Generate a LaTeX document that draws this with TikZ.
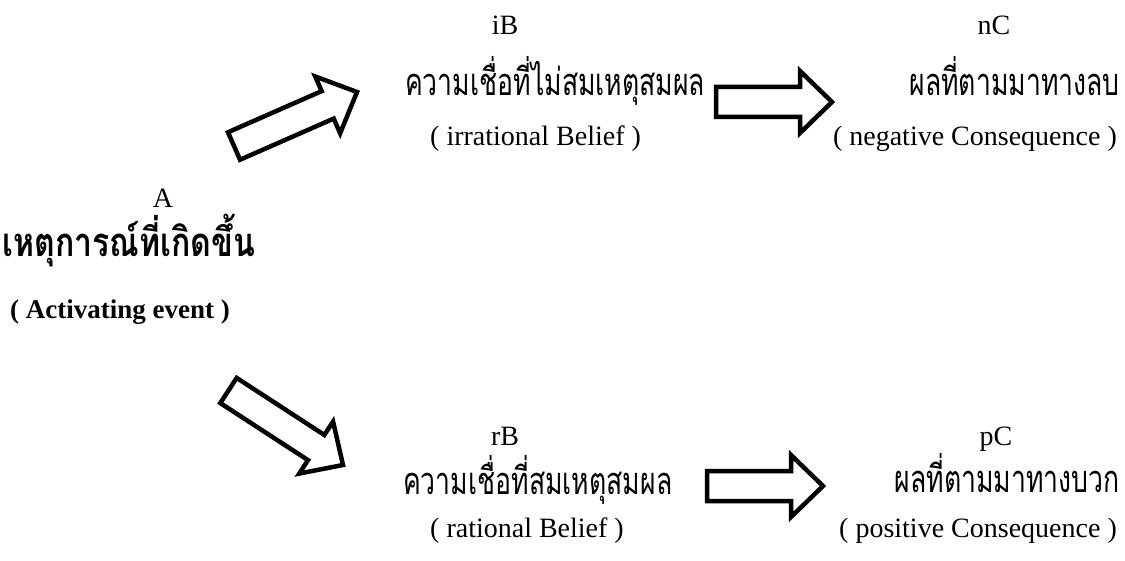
\documentclass[tikz,border=0pt]{standalone}
\usepackage{fontspec}
\setmainfont{Liberation Serif}
\newfontfamily\thaifont[Script=Thai,FakeStretch=0.70]{Loma}
\newfontfamily\thaiwide[Script=Thai,FakeStretch=0.80]{Loma}
\usetikzlibrary{calc}

\tikzset{
  latin/.style={inner sep=0pt, font=\fontsize{28}{34}\selectfont},
  thai/.style={inner sep=0pt, font=\thaifont\fontsize{38}{42}\selectfont},
  barrow/.style={draw=black, line width=4.5pt, fill=white, line join=miter},
}

% hollow block arrow from #1 (tail centre) to #2 (tip)
\newcommand\blockarrow[2]{%
  \coordinate (neck) at ($(#2)!32pt!(#1)$);
  \draw[barrow]
    ($(#1)!15pt!90:(#2)$) -- ($(neck)!15pt!90:(#2)$) -- ($(neck)!31pt!90:(#2)$)
    -- (#2)
    -- ($(neck)!31pt!-90:(#2)$) -- ($(neck)!15pt!-90:(#2)$) -- ($(#1)!15pt!-90:(#2)$)
    -- cycle;
}

\begin{document}
\begin{tikzpicture}[x=1pt,y=-1pt]
  \useasboundingbox (0,0) rectangle (1125,561);

  % activating event
  \node[latin, anchor=base] (A) at (163,208) {A};
  \node[thai, anchor=base west, font=\thaiwide\bfseries\fontsize{40}{44}\selectfont] (Ath) at (2,257) {เหตุการณ์ที่เกิดขึ้น};
  \node[latin, anchor=base west, font=\bfseries\fontsize{27}{32}\selectfont] (Aen) at (10,319) {( Activating event )};

  % irrational belief
  \node[latin, anchor=base] (iB) at (505,35) {iB};
  \node[thai, anchor=base west] (iBth) at (405,96) {ความเชื่อที่ไม่สมเหตุสมผล};
  \node[latin, anchor=base west] (iBen) at (430,146) {( irrational Belief )};

  % negative consequence
  \node[latin, anchor=base] (nC) at (994,35) {nC};
  \node[thai, anchor=base east] (nCth) at (1120,96) {ผลที่ตามมาทางลบ};
  \node[latin, anchor=base east] (nCen) at (1117,146) {( negative Consequence )};

  % rational belief
  \node[latin, anchor=base] (rB) at (505,445) {rB};
  \node[thai, anchor=base west] (rBth) at (403,494) {ความเชื่อที่สมเหตุสมผล};
  \node[latin, anchor=base west] (rBen) at (430,537) {( rational Belief )};

  % positive consequence
  \node[latin, anchor=base] (pC) at (996,445) {pC};
  \node[thai, anchor=base east] (pCth) at (1120,492) {ผลที่ตามมาทางบวก};
  \node[latin, anchor=base east] (pCen) at (1117,537) {( positive Consequence )};

  % arrow ends
  \coordinate (AiBs) at (234,146);
  \coordinate (AiBe) at (357,92);
  \coordinate (ArBs) at (228.5,390.5);
  \coordinate (ArBe) at (343,465);
  \coordinate (iBnCs) at (716,102);
  \coordinate (iBnCe) at (832,102);
  \coordinate (rBpCs) at (707,486);
  \coordinate (rBpCe) at (823,486);

  \blockarrow{AiBs}{AiBe}
  \blockarrow{ArBs}{ArBe}
  \blockarrow{iBnCs}{iBnCe}
  \blockarrow{rBpCs}{rBpCe}
\end{tikzpicture}
\end{document}
